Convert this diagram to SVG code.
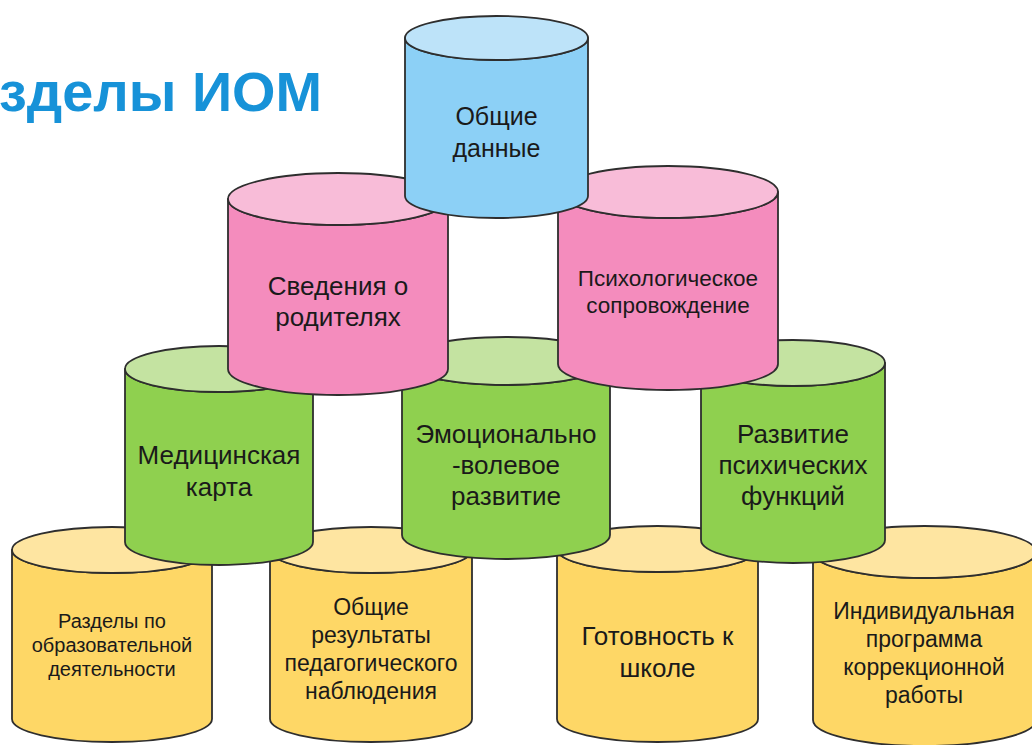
<svg xmlns="http://www.w3.org/2000/svg" width="1032" height="745" viewBox="0 0 1032 745">
<style>
  .side{stroke:#2e2e2e;stroke-width:1.8;stroke-linejoin:round}
  .cap{stroke:#2e2e2e;stroke-width:1.8}
  .blue .side{fill:#8cd0f6}.blue .cap{fill:#bde3f9}
  .pink .side{fill:#f48cbd}.pink .cap{fill:#f8bcd8}
  .green .side{fill:#8fd04f}.green .cap{fill:#c4e3a1}
  .yellow .side{fill:#fed766}.yellow .cap{fill:#fee5a1}
  text.lbl{font-family:"Liberation Sans",Arial,sans-serif;fill:#1a1a1a;text-anchor:middle}
  .title{font-family:"Liberation Sans",Arial,sans-serif;font-weight:bold;fill:#1792d8}
</style>
<rect width="1032" height="745" fill="#ffffff"/>
<text class="title" x="-1" y="111" font-size="55" textLength="323" lengthAdjust="spacingAndGlyphs">зделы ИОМ</text>

<!-- bottom row: yellow -->
<g id="node-razdely-obraz" class="yellow">
  <path class="side" d="M12 550 V719 A100 23 0 0 0 212 719 V550 A100 23 0 0 1 12 550 Z"/>
  <ellipse class="cap" cx="112" cy="550" rx="100" ry="23"/>
  <text class="lbl" font-size="20"><tspan x="112" y="628">Разделы по</tspan><tspan x="112" y="652">образовательной</tspan><tspan x="112" y="676">деятельности</tspan></text>
</g>
<g id="node-obshchie-rezultaty" class="yellow">
  <path class="side" d="M270 550 V719 A101 23 0 0 0 472 719 V550 A101 23 0 0 1 270 550 Z"/>
  <ellipse class="cap" cx="371" cy="550" rx="101" ry="23"/>
  <text class="lbl" font-size="23"><tspan x="371" y="615">Общие</tspan><tspan x="371" y="643">результаты</tspan><tspan x="371" y="671">педагогического</tspan><tspan x="371" y="699">наблюдения</tspan></text>
</g>
<g id="node-gotovnost" class="yellow">
  <path class="side" d="M557 549 V719 A100.5 23 0 0 0 758 719 V549 A100.5 23 0 0 1 557 549 Z"/>
  <ellipse class="cap" cx="657.5" cy="549" rx="100.5" ry="23"/>
  <text class="lbl" font-size="26"><tspan x="657.5" y="645">Готовность к</tspan><tspan x="657.5" y="677">школе</tspan></text>
</g>
<g id="node-individualnaya" class="yellow">
  <path class="side" d="M813 552 V720 A111.5 26 0 0 0 1036 720 V552 A111.5 26 0 0 1 813 552 Z"/>
  <ellipse class="cap" cx="924.5" cy="552" rx="111.5" ry="26"/>
  <text class="lbl" font-size="23"><tspan x="924" y="619">Индивидуальная</tspan><tspan x="924" y="647">программа</tspan><tspan x="924" y="675">коррекционной</tspan><tspan x="924" y="703">работы</tspan></text>
</g>

<!-- second row: green -->
<g id="node-medkarta" class="green">
  <path class="side" d="M125 369 V542 A94 23 0 0 0 313 542 V369 A94 23 0 0 1 125 369 Z"/>
  <ellipse class="cap" cx="219" cy="369" rx="94" ry="23"/>
  <text class="lbl" font-size="26"><tspan x="219" y="464">Медицинская</tspan><tspan x="219" y="496">карта</tspan></text>
</g>
<g id="node-emocionalno" class="green">
  <path class="side" d="M402 361 V535 A104 24 0 0 0 610 535 V361 A104 24 0 0 1 402 361 Z"/>
  <ellipse class="cap" cx="506" cy="361" rx="104" ry="24"/>
  <text class="lbl" font-size="26"><tspan x="506" y="443">Эмоционально</tspan><tspan x="506" y="474">-волевое</tspan><tspan x="506" y="505">развитие</tspan></text>
</g>
<g id="node-razvitie" class="green">
  <path class="side" d="M701 363 V540 A92 23 0 0 0 885 540 V363 A92 23 0 0 1 701 363 Z"/>
  <ellipse class="cap" cx="793" cy="363" rx="92" ry="23"/>
  <text class="lbl" font-size="26"><tspan x="793" y="443">Развитие</tspan><tspan x="793" y="474">психических</tspan><tspan x="793" y="505">функций</tspan></text>
</g>

<!-- third row: pink -->
<g id="node-svedeniya" class="pink">
  <path class="side" d="M228 199 V369 A110 26 0 0 0 448 369 V199 A110 26 0 0 1 228 199 Z"/>
  <ellipse class="cap" cx="338" cy="199" rx="110" ry="26"/>
  <text class="lbl" font-size="26"><tspan x="338" y="295">Сведения о</tspan><tspan x="338" y="326">родителях</tspan></text>
</g>
<g id="node-psiholog" class="pink">
  <path class="side" d="M558 192 V364 A110 26 0 0 0 778 364 V192 A110 26 0 0 1 558 192 Z"/>
  <ellipse class="cap" cx="668" cy="192" rx="110" ry="26"/>
  <text class="lbl" font-size="22.5"><tspan x="668" y="286">Психологическое</tspan><tspan x="668" y="313">сопровождение</tspan></text>
</g>

<!-- top: blue -->
<g id="node-obshchie-dannye" class="blue">
  <path class="side" d="M405 38 V196 A91.5 22 0 0 0 588 196 V38 A91.5 22 0 0 1 405 38 Z"/>
  <ellipse class="cap" cx="496.5" cy="38" rx="91.5" ry="22"/>
  <text class="lbl" font-size="25"><tspan x="496.5" y="125">Общие</tspan><tspan x="496.5" y="157">данные</tspan></text>
</g>
</svg>
